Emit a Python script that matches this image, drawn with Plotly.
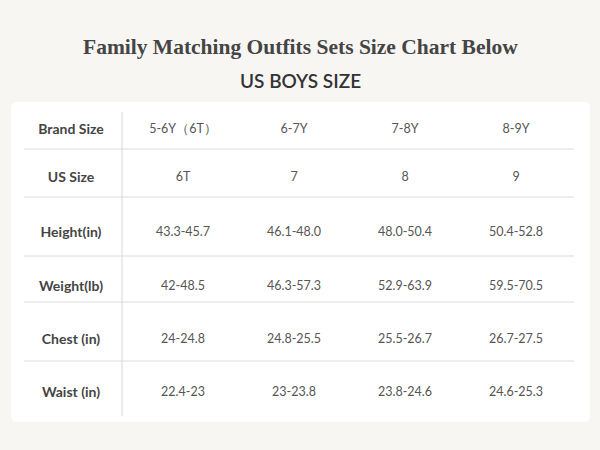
import plotly.graph_objects as go

# ---- data ----
row_labels = ["Brand Size", "US Size", "Height(in)", "Weight(lb)", "Chest (in)", "Waist (in)"]
brand_sizes = ["5-6Y（6T）", "6-7Y", "7-8Y", "8-9Y"]
us_sizes = ["6T", "7", "8", "9"]
height_in = ["43.3-45.7", "46.1-48.0", "48.0-50.4", "50.4-52.8"]
weight_lb = ["42-48.5", "46.3-57.3", "52.9-63.9", "59.5-70.5"]
chest_in = ["24-24.8", "24.8-25.5", "25.5-26.7", "26.7-27.5"]
waist_in = ["22.4-23", "23-23.8", "23.8-24.6", "24.6-25.3"]
title = "Family Matching Outfits Sets Size Chart Below"
subtitle = "US BOYS SIZE"

rows = [brand_sizes, us_sizes, height_in, weight_lb, chest_in, waist_in]

# ---- layout positions (pixel space) ----
W, H = 600, 450
label_x = 71
col_x = [183, 294, 405, 516]
row_y = [130, 178, 233, 287, 340, 393]
hlines = [149, 197, 256, 302, 361]
line_x0, line_x1 = 24, 574
vline_x, vline_y0, vline_y1 = 122, 112, 416
card = (11, 102, 590, 422)
BG = "#f8f6f3"

fig = go.Figure()

# row labels
fig.add_trace(go.Scatter(
    x=[label_x] * len(row_labels), y=row_y, text=row_labels, mode="text",
    textfont=dict(family="Lato", size=14, color="#444444", weight="bold"),
    hoverinfo="skip", showlegend=False))

# values
xs, ys, ts = [], [], []
for r, vals in enumerate(rows):
    for c, v in enumerate(vals):
        xs.append(col_x[c]); ys.append(row_y[r]); ts.append(v)
fig.add_trace(go.Scatter(
    x=xs, y=ys, text=ts, mode="text",
    textfont=dict(family="Lato", size=12.5, color="#555555"),
    hoverinfo="skip", showlegend=False))

# card with rounded corners
x0, y0, x1, y1 = card
rr = 6
path = (f"M {x0+rr},{y0} L {x1-rr},{y0} Q {x1},{y0} {x1},{y0+rr} "
        f"L {x1},{y1-rr} Q {x1},{y1} {x1-rr},{y1} L {x0+rr},{y1} "
        f"Q {x0},{y1} {x0},{y1-rr} L {x0},{y0+rr} Q {x0},{y0} {x0+rr},{y0} Z")
fig.add_shape(type="path", path=path, xref="x", yref="y",
              fillcolor="#ffffff", line=dict(width=0), layer="below")

for yy in hlines:
    fig.add_shape(type="line", x0=line_x0, x1=line_x1, y0=yy, y1=yy, xref="x", yref="y",
                  line=dict(color="#dcdcdc", width=1), layer="below")
fig.add_shape(type="line", x0=vline_x, x1=vline_x, y0=vline_y0, y1=vline_y1, xref="x", yref="y",
              line=dict(color="#d6d6d6", width=1), layer="below")

fig.add_annotation(x=300, y=47, xref="x", yref="y", text=f"<b>{title}</b>", showarrow=False,
                   font=dict(family="Liberation Serif", size=21.5, color="#454545"))
fig.add_annotation(x=300, y=80, xref="x", yref="y", text=subtitle, showarrow=False,
                   font=dict(family="Lato", size=19, color="#333333", weight=600))

fig.update_layout(
    width=W, height=H, margin=dict(l=0, r=0, t=0, b=0),
    paper_bgcolor=BG, plot_bgcolor=BG,
    xaxis=dict(range=[0, W], visible=False, fixedrange=True),
    yaxis=dict(range=[H, 0], visible=False, fixedrange=True),
)

fig.write_html("out.html", config={"displayModeBar": False},
               post_script="document.body.style.margin='0';document.body.style.background='%s';" % BG)
